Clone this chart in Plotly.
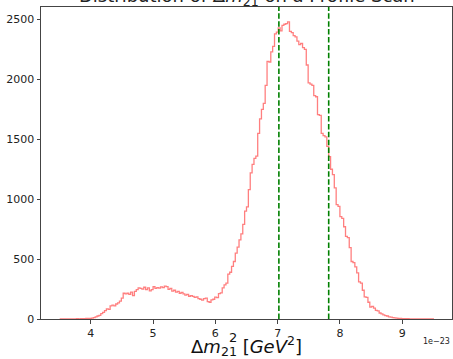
import numpy as np
import plotly.graph_objects as go

# Histogram of delta m^2_21 (units of 1e-23), 200 bins from 3.50 to 9.50
bin_start = 3.50
bin_width = 0.03
counts = [
    0, 0, 1, 0, 0, 1, 0, 1, 1, 2, 1, 2, 3, 3, 4, 5, 6, 8, 12, 18,
    25, 30, 45, 55, 70, 85, 80, 110, 115, 110, 125, 135, 150, 175, 215, 210, 215, 205, 225, 195,
    230, 245, 260, 255, 250, 265, 245, 260, 235, 245, 270, 255, 262, 258, 268, 262, 275, 270, 248, 255,
    232, 240, 225, 230, 215, 222, 210, 200, 205, 190, 195, 188, 180, 185, 170, 165, 158, 170, 175, 145,
    140, 160, 165, 182, 178, 212, 218, 260, 285, 300, 375, 390, 440, 480, 550, 600, 660, 710, 790, 900,
    935, 1080, 1220, 1290, 1340, 1360, 1550, 1670, 1750, 1800, 1950, 2150, 2145, 2230, 2275, 2380, 2395, 2430, 2405, 2450,
    2460, 2465, 2480, 2400, 2390, 2365, 2355, 2320, 2290, 2300, 2265, 2250, 2120, 1970, 1960, 1950, 1865, 1855, 1705, 1700,
    1550, 1530, 1520, 1440, 1355, 1250, 1205, 1095, 955, 940, 855, 840, 770, 690, 680, 595, 480, 470, 435, 385,
    310, 300, 240, 185, 180, 140, 100, 105, 90, 72, 68, 50, 42, 35, 28, 25, 18, 15, 12, 9,
    8, 5, 4, 3, 3, 2, 2, 1, 1, 1, 0, 1, 0, 0, 1, 0, 0, 0, 0, 1,
]
vlines = [7.02, 7.82]
x_ticks = [4, 5, 6, 7, 8, 9]
y_ticks = [0, 500, 1000, 1500, 2000, 2500]

edges = bin_start + bin_width * np.arange(len(counts) + 1)
# step outline (like matplotlib histtype="step")
sx = [edges[0]] + list(edges) + [edges[-1]]
sy = [0] + list(counts) + [counts[-1], 0]

fig = go.Figure()
fig.add_trace(go.Scatter(x=sx, y=sy, mode="lines", line_shape="hv",
                         line=dict(color="rgba(255,0,0,0.5)", width=1.3),
                         hoverinfo="skip", showlegend=False))

span = edges[-1] - edges[0]
xr = [edges[0] - 0.05 * span, edges[-1] + 0.05 * span]
yr = [0, max(counts) * 1.05]

for v in vlines:
    fig.add_shape(type="line", xref="x", yref="paper", x0=v, x1=v, y0=0, y1=1,
                  line=dict(color="green", width=1.6, dash="5.5px,2.4px"))

axis_common = dict(showline=True, linecolor="#444", linewidth=1, mirror=True,
                   ticks="outside", ticklen=3.5, tickwidth=1, tickcolor="#444",
                   showgrid=False, zeroline=False,
                   tickfont=dict(family="DejaVu Sans", size=11, color="#222"))

lab_font = dict(size=18, family="DejaVu Sans", color="#111")
fig.update_layout(
    width=453, height=359,
    margin=dict(l=41, r=1, t=7, b=40),
    paper_bgcolor="white", plot_bgcolor="white",
    font=dict(family="DejaVu Sans", color="#222"),
    xaxis=dict(range=xr, tickvals=x_ticks, ticktext=[str(t) for t in x_ticks],
               **axis_common),
    yaxis=dict(range=yr, tickvals=y_ticks, **axis_common),
    annotations=[
        dict(text="Distribution of Δ<i>m</i><sub>21</sub> on a Profile Scan",
             xref="paper", yref="paper", x=0.5, y=1.0, yshift=-4, yanchor="bottom",
             showarrow=False, font=dict(size=18, family="DejaVu Sans", color="#222")),
        dict(text="Δ<i>m</i><sub>21</sub> [<i>GeV</i><sup>2</sup>]",
             xref="paper", yref="paper", x=0.5, y=0, yanchor="top", yshift=-12,
             showarrow=False, font=lab_font),
        dict(text="2", xref="paper", yref="paper", x=0.5, y=0, xanchor="center",
             yanchor="middle", xshift=-14, yshift=-18, showarrow=False,
             font=dict(size=13, family="DejaVu Sans", color="#111")),
        dict(text="1e−23", xref="paper", yref="paper", x=1.0, y=0, xanchor="right",
             yanchor="top", yshift=-16, showarrow=False,
             font=dict(size=8, family="DejaVu Sans", color="#222")),
    ],
)

fig.write_html("out.html", config={"displayModeBar": False},
               post_script="document.body.style.margin='0';")
